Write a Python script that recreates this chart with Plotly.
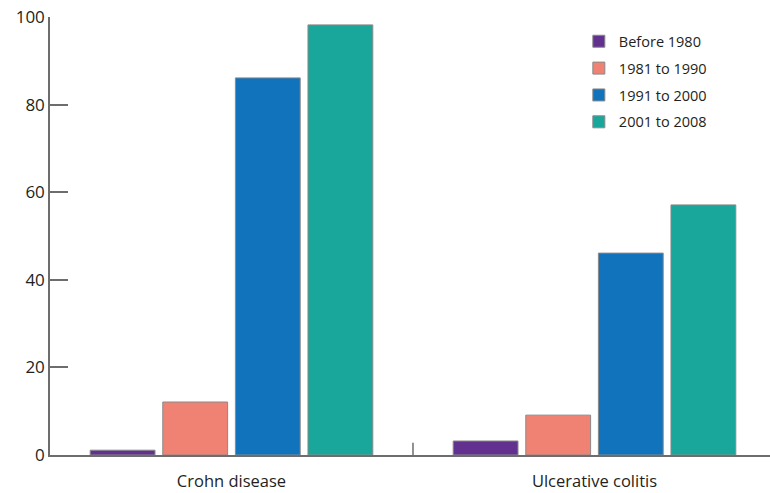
import plotly.graph_objects as go

categories = ["Crohn disease", "Ulcerative colitis"]
periods = ["Before 1980", "1981 to 1990", "1991 to 2000", "2001 to 2008"]
before_1980 = [1.1, 3.2]
y1981_1990 = [12.1, 9.1]
y1991_2000 = [86.1, 46.1]
y2001_2008 = [98.2, 57.1]
y_ticks = [0, 20, 40, 60, 80, 100]

series = [before_1980, y1981_1990, y1991_2000, y2001_2008]
colors = ["#62308f", "#ef8272", "#1173bb", "#18a79a"]

fig = go.Figure()
for name, vals, col in zip(periods, series, colors):
    fig.add_trace(go.Bar(
        x=categories, y=vals, name=name, legendgroup=name,
        marker=dict(color=col, line=dict(color="#8a8a8a", width=1)),
    ))

fig.update_layout(
    width=770, height=493,
    margin=dict(l=50, r=0, t=17, b=38),
    plot_bgcolor="white", paper_bgcolor="white",
    barmode="group", bargap=0.2, bargroupgap=0.107,
    font=dict(family="Open Sans, Noto Sans, sans-serif", color="#231f20", size=16),
    showlegend=True,
    legend=dict(
        x=0.7345, y=0.981, xanchor="left", yanchor="top",
        bgcolor="rgba(0,0,0,0)", font=dict(size=14.5),
        itemwidth=30, tracegroupgap=5,
    ),
    xaxis=dict(
        range=[-0.5, 1.4835], showline=True, linecolor="#6d6d6d", linewidth=1.5,
        showgrid=False, ticks="", tickfont=dict(size=16.5), ticklabelstandoff=10,
        automargin=False,
    ),
    yaxis=dict(
        range=[0, 100], tickvals=y_ticks, showline=True, linecolor="#6d6d6d",
        linewidth=1.5, showgrid=False, zeroline=False, ticks="inside",
        ticklen=18, tickcolor="#6d6d6d", tickwidth=1.5, tickfont=dict(size=17),
        automargin=False,
    ),
)

# short divider tick between the two disease groups
fig.add_shape(type="line", xref="x", yref="paper", x0=0.5, x1=0.5, y0=0, y1=0.028,
              line=dict(color="#6d6d6d", width=1.5))

fig.write_html("out.html")
